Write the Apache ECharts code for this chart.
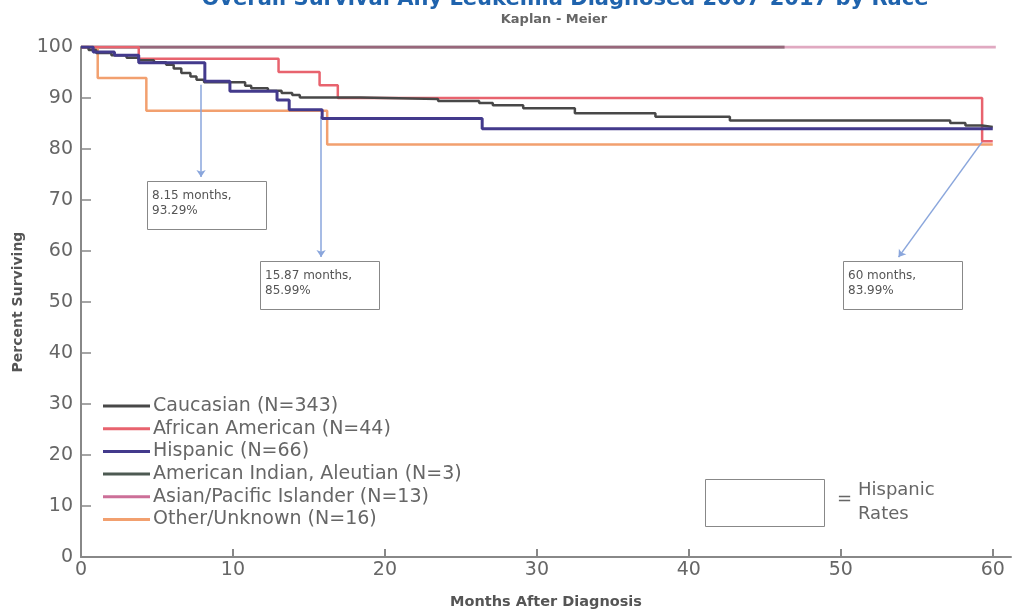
<!DOCTYPE html>
<html>
<head>
<meta charset="utf-8">
<script src="https://cdn.jsdelivr.net/npm/echarts@6/dist/echarts.min.js"></script>
<style>
  html, body { margin: 0; padding: 0; background: #fff; }
  #chart { width: 1027px; height: 613px; }
</style>
</head>
<body>
<div id="chart"></div>
<script>
  // Kaplan-Meier curves, [month, percent surviving] at each step
  var caucasian = [[0, 100], [0.5, 99.4], [1, 98.8], [2, 98.4], [3, 97.9], [3.8, 97.4], [4.8, 97.0],
    [5.6, 96.5], [6.1, 95.8], [6.6, 94.9], [7.2, 94.2], [7.6, 93.6], [8.1, 93.1], [10.8, 92.4],
    [11.2, 91.9], [12.3, 91.4], [13.2, 91.0], [13.9, 90.6], [14.4, 90.1], [18.4, 89.8], [23.5, 89.4],
    [26.2, 89.0], [27.1, 88.6], [29.1, 88.0], [32.5, 87.0], [37.8, 86.3], [42.7, 85.6], [57.2, 85.1],
    [58.2, 84.6], [59.3, 84.3], [60, 84.3]]
  var africanAmerican = [[0, 100], [3.8, 97.7], [13.0, 95.1], [15.7, 92.5], [16.9, 90.0], [59.3, 81.5], [60, 81.5]]
  var hispanic = [[0, 100], [0.8, 99.0], [2.2, 98.4], [3.8, 96.9], [8.15, 93.29], [9.8, 91.3], [12.9, 89.6],
    [13.7, 87.7], [15.87, 85.99], [26.4, 83.99], [60, 83.99]]
  var americanIndian = [[0, 100], [46.3, 100]]
  var asianPacific = [[0, 100], [60.2, 100]]
  var otherUnknown = [[0, 100], [1.1, 93.9], [4.3, 87.5], [16.2, 80.9], [60, 80.9]]

  var seriesNames = ['Caucasian (N=343)', 'African American (N=44)', 'Hispanic (N=66)',
    'American Indian, Aleutian (N=3)', 'Asian/Pacific Islander (N=13)', 'Other/Unknown (N=16)']
  var xTicks = [0, 10, 20, 30, 40, 50, 60]
  var yTicks = [0, 10, 20, 30, 40, 50, 60, 70, 80, 90, 100]

  // Hispanic rate callouts
  var calloutLines = [['8.15 months,', '93.29%'], ['15.87 months,', '85.99%'], ['60 months,', '83.99%']]
  var arrowFrom = [[7.9, 92.6], [15.8, 86.4], [59.3, 81.4]]
  var arrowTo = [[7.9, 74.5], [15.8, 58.8], [53.8, 58.8]]
  var boxShift = [-54, -61, -56]

  var font = 'DejaVu Sans'
  var colors = ['#484848', '#e8636e', '#433a8c', '#4d5a52', '#cc6f98', '#f2a06f']

  var chart = echarts.init(document.getElementById('chart'))

  function stepSeries (idx, data, width, z, opacity) {
    return {
      name: seriesNames[idx],
      type: 'line',
      step: 'end',
      data: data,
      symbol: 'none',
      z: z,
      lineStyle: { color: colors[idx], width: width, opacity: opacity || 1 },
      itemStyle: { color: colors[idx] }
    }
  }

  var arrowData = arrowFrom.map(function (p, i) {
    return [{ coord: p }, { coord: arrowTo[i] }]
  })

  var series = [
    stepSeries(3, americanIndian, 3, 2),
    stepSeries(4, asianPacific, 3, 3, 0.6),
    stepSeries(5, otherUnknown, 2.5, 4),
    stepSeries(1, africanAmerican, 2.5, 5),
    stepSeries(0, caucasian, 2.5, 6),
    stepSeries(2, hispanic, 3, 7)
  ]
  series.push({
    type: 'line',
    data: [],
    z: 8,
    markLine: {
      silent: true,
      animation: false,
      symbol: ['none', 'arrow'],
      symbolSize: 7,
      label: { show: false },
      lineStyle: { color: '#8aa6dc', width: 1.5, type: 'solid' },
      emphasis: { disabled: true },
      data: arrowData
    }
  })

  var option = {
    animation: false,
    backgroundColor: '#fff',
    textStyle: { fontFamily: font },
    title: [{
      text: 'Overall Survival Any Leukemia Diagnosed 2007-2017 by Race',
      left: 560,
      textAlign: 'center',
      top: -16,
      textStyle: { color: '#1f63ad', fontSize: 21, fontWeight: 'bold', fontFamily: font }
    }, {
      text: 'Kaplan - Meier',
      left: 549,
      textAlign: 'center',
      top: 8,
      textStyle: { color: '#666', fontSize: 13, fontWeight: 'bold', fontFamily: font }
    }],
    grid: { left: 81, right: 16, top: 47, bottom: 56, containLabel: false, outerBoundsMode: 'none' },
    legend: {
      orient: 'vertical',
      left: 98,
      top: 391,
      icon: 'rect',
      itemWidth: 47,
      itemHeight: 3,
      itemGap: 2.7,
      data: seriesNames,
      textStyle: { color: '#666', fontSize: 19, lineHeight: 20, fontFamily: font, padding: [0, 0, 0, -2] }
    },
    xAxis: {
      type: 'value',
      min: 0,
      max: 61.2,
      interval: 10,
      name: 'Months After Diagnosis',
      nameLocation: 'middle',
      nameGap: 38,
      nameTextStyle: { color: '#555', fontSize: 14.5, fontWeight: 'bold', fontFamily: font },
      axisLine: { lineStyle: { color: '#888', width: 2 } },
      axisTick: { inside: true, length: 8, customValues: xTicks, lineStyle: { color: '#888', width: 2 } },
      axisLabel: { customValues: xTicks, color: '#666', fontSize: 19, margin: 4, fontFamily: font },
      splitLine: { show: false }
    },
    yAxis: {
      type: 'value',
      min: 0,
      max: 100,
      interval: 10,
      name: 'Percent Surviving',
      nameLocation: 'middle',
      nameGap: 53,
      nameTextStyle: { color: '#555', fontSize: 14, fontWeight: 'bold', fontFamily: font },
      axisLine: { show: true, lineStyle: { color: '#888', width: 2 } },
      axisTick: { show: true, inside: true, length: 10, customValues: yTicks, lineStyle: { color: '#888', width: 1.5 } },
      axisLabel: { customValues: yTicks, color: '#666', fontSize: 19, margin: 8, fontFamily: font },
      splitLine: { show: false }
    },
    series: series
  }

  chart.setOption(option)

  // callout boxes hang under the arrow tips; the "Hispanic Rates" key sits bottom right
  var graphics = []
  arrowTo.forEach(function (p, i) {
    var px = chart.convertToPixel({ gridIndex: 0 }, p)
    var bx = Math.round(px[0] + boxShift[i])
    graphics.push({
      type: 'rect',
      shape: { x: bx + 0.5, y: Math.round(px[1] + 4) + 0.5, width: 119, height: 48 },
      style: { fill: '#fff', stroke: '#888', lineWidth: 1 },
      z: 10
    })
    graphics.push({
      type: 'text',
      x: bx + 5,
      y: px[1] + 11,
      style: {
        text: calloutLines[i].join('\n'),
        fill: '#555',
        font: '12px "' + font + '"',
        lineHeight: 15
      },
      z: 11
    })
  })
  graphics.push({
    type: 'rect',
    shape: { x: 705.5, y: 479.5, width: 119, height: 47 },
    style: { fill: '#fff', stroke: '#888', lineWidth: 1 },
    z: 10
  })
  graphics.push({
    type: 'text', x: 837, y: 490,
    style: { text: '=', fill: '#666', font: '18px "' + font + '"' }, z: 11
  })
  graphics.push({
    type: 'text', x: 858, y: 478,
    style: { text: 'Hispanic\nRates', fill: '#666', font: '18px "' + font + '"', lineHeight: 24 }, z: 11
  })
  chart.setOption({ graphic: graphics })
</script>
</body>
</html>
